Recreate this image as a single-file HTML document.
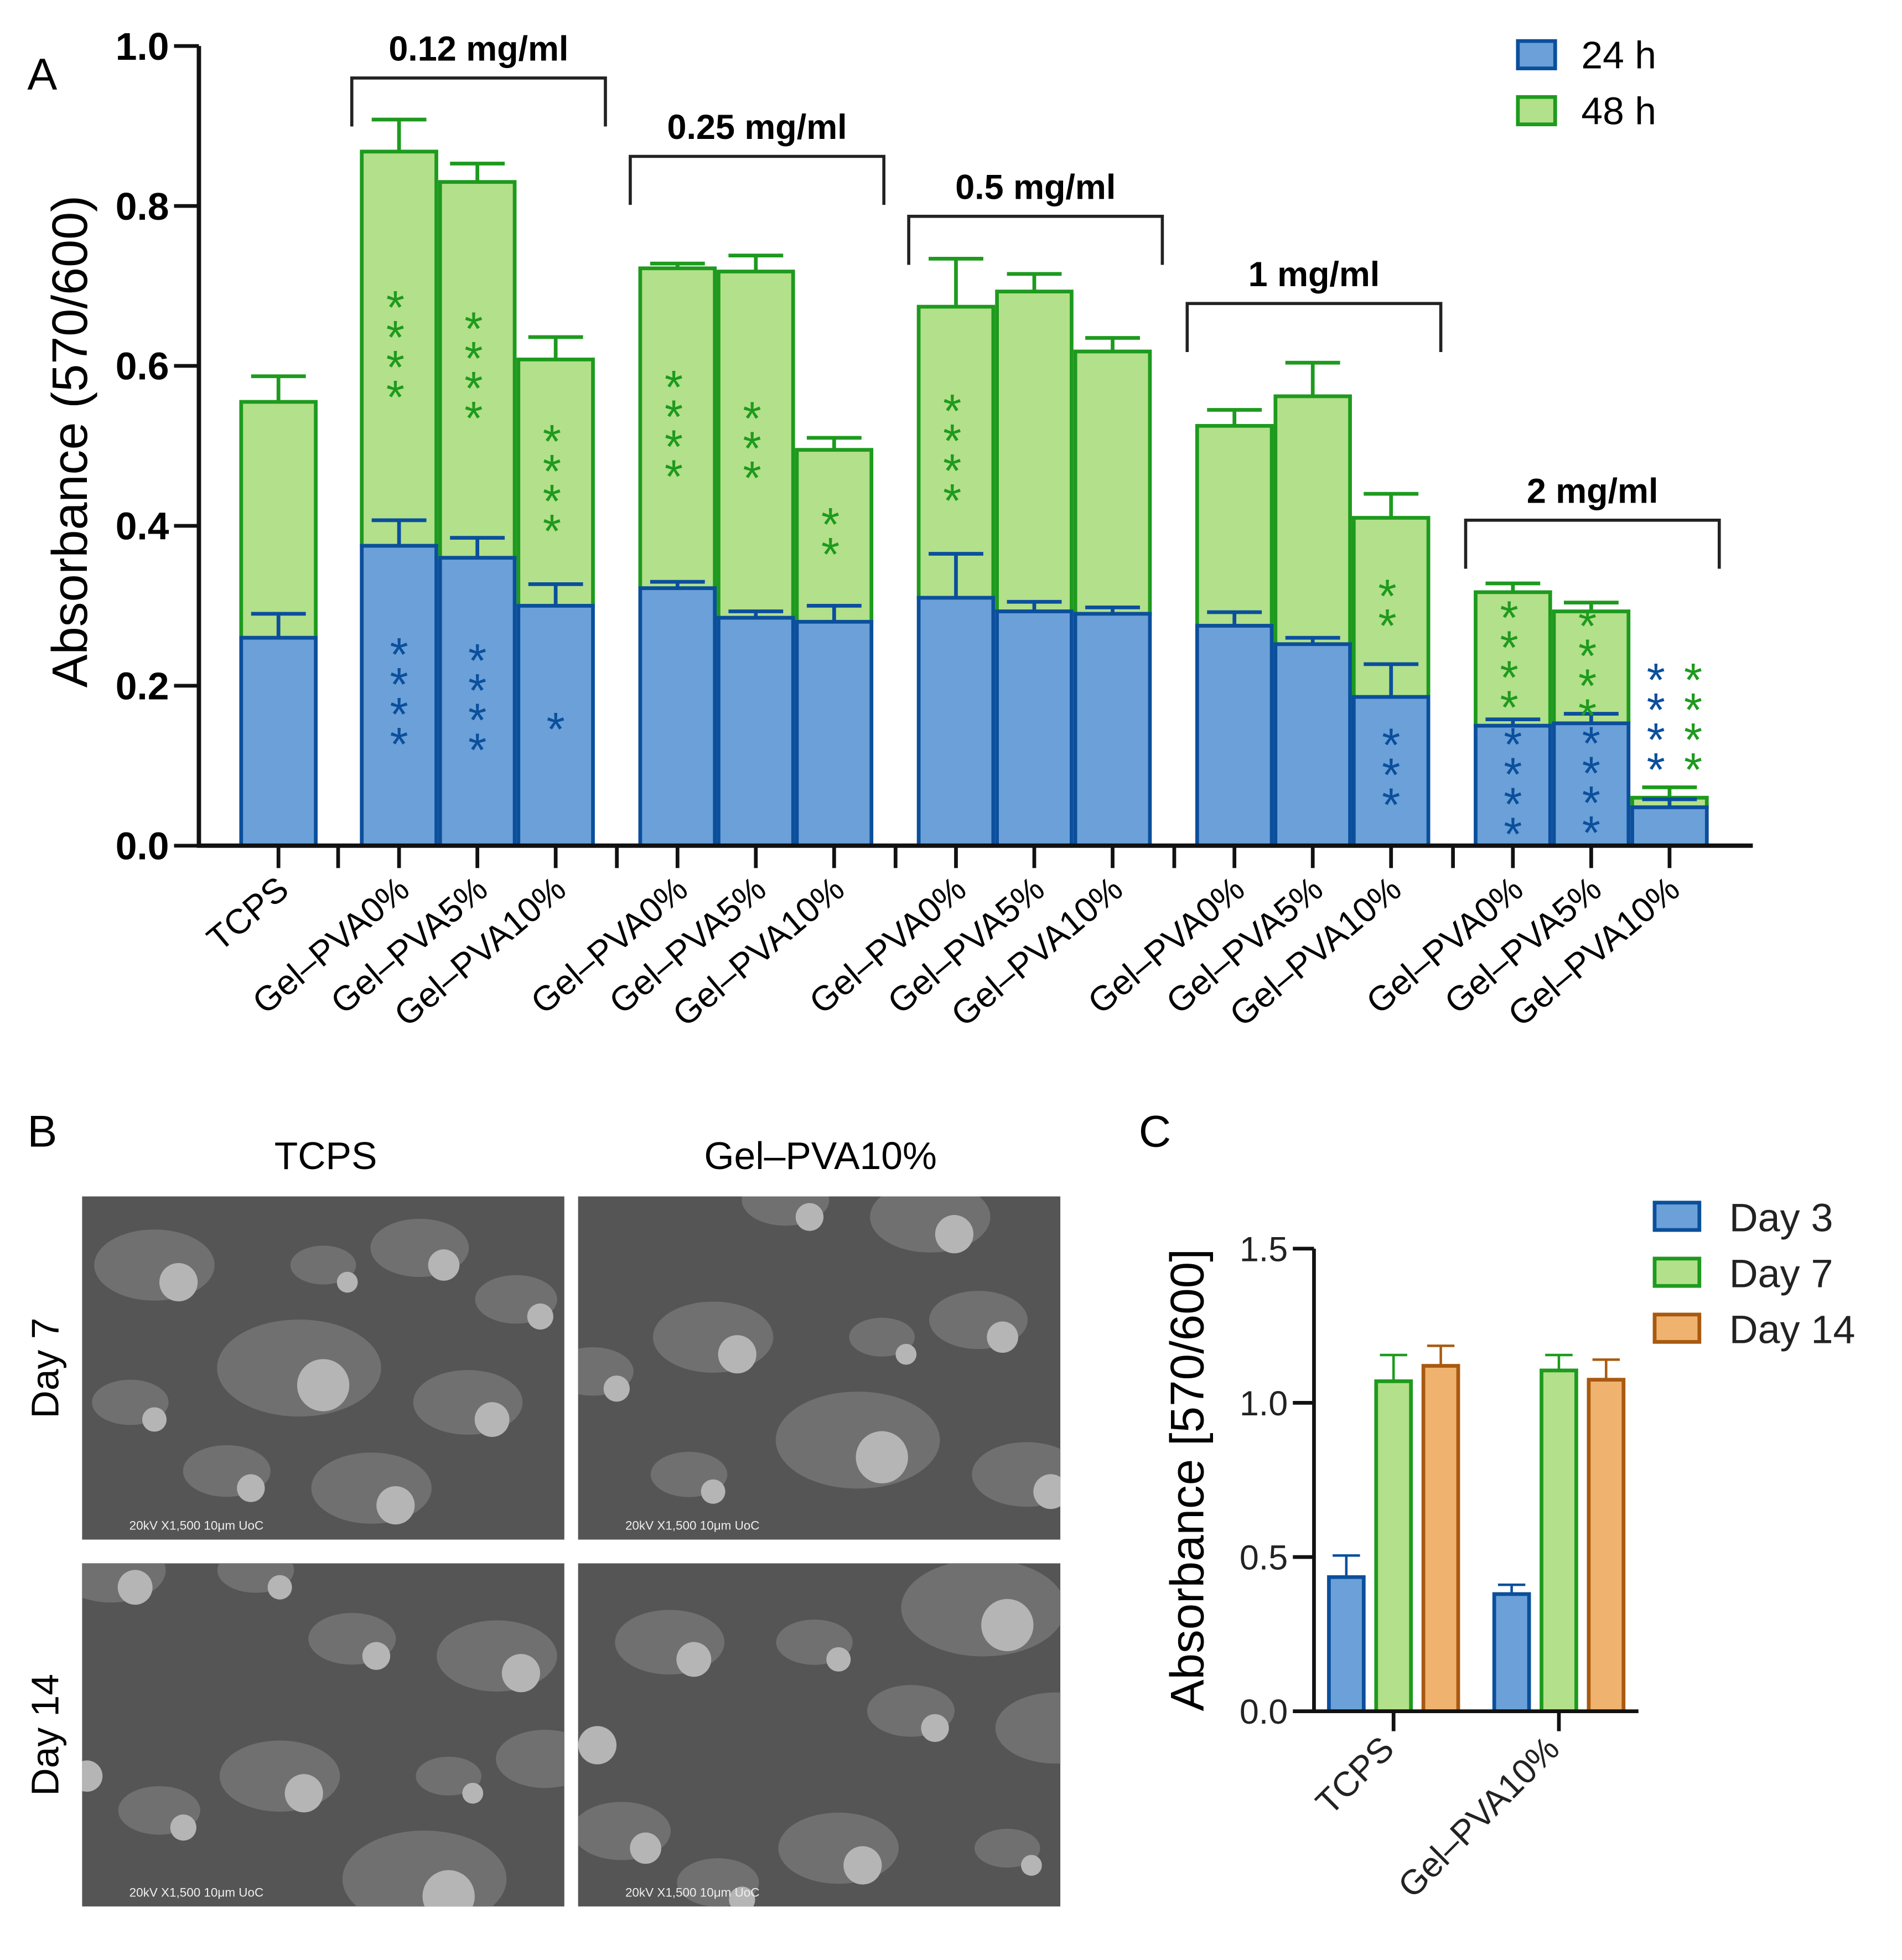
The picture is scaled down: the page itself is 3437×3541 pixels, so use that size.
<!DOCTYPE html>
<html><head><meta charset="utf-8"><style>
html,body{margin:0;padding:0;background:#fff;}
svg{display:block;font-family:"Liberation Sans",sans-serif;}
</style></head><body>
<svg id="fig" width="3437" height="3541" viewBox="0 0 1530 1576" preserveAspectRatio="none" xmlns="http://www.w3.org/2000/svg">
<defs>
<clipPath id="c0"><rect x="66" y="962" width="388" height="276"/></clipPath>
<clipPath id="c1"><rect x="465" y="962" width="388" height="276"/></clipPath>
<clipPath id="c2"><rect x="66" y="1257" width="388" height="276"/></clipPath>
<clipPath id="c3"><rect x="465" y="1257" width="388" height="276"/></clipPath>
</defs>
<rect width="1530" height="1576" fill="#fff"/>
<g id="pa"></g>
<g id="pb"></g>
<g id="pc"></g>
</svg>
<script>
// Panel A data
const catsA = ["TCPS","Gel–PVA0%","Gel–PVA5%","Gel–PVA10%","Gel–PVA0%","Gel–PVA5%","Gel–PVA10%","Gel–PVA0%","Gel–PVA5%","Gel–PVA10%","Gel–PVA0%","Gel–PVA5%","Gel–PVA10%","Gel–PVA0%","Gel–PVA5%","Gel–PVA10%"];
const val24 = [0.26,0.375,0.36,0.30,0.322,0.285,0.28,0.31,0.293,0.29,0.275,0.252,0.186,0.15,0.153,0.048];
const err24 = [0.03,0.032,0.025,0.027,0.008,0.008,0.02,0.055,0.012,0.008,0.017,0.008,0.041,0.008,0.012,0.01];
const val48 = [0.555,0.868,0.83,0.608,0.722,0.718,0.495,0.674,0.693,0.618,0.525,0.562,0.41,0.317,0.293,0.06];
const err48 = [0.032,0.04,0.023,0.028,0.006,0.02,0.015,0.06,0.022,0.017,0.02,0.042,0.03,0.011,0.011,0.013];
const sig24 = [0,4,4,1,0,0,0,0,0,0,0,0,3,4,4,4];
const sig48 = [0,4,4,4,4,3,2,4,0,0,0,0,2,4,4,4];
const groupsA = ["0.12 mg/ml","0.25 mg/ml","0.5 mg/ml","1 mg/ml","2 mg/ml"];
const groupBracketVal = [0.96,0.862,0.787,0.678,0.407];
const yTicksA = ["0.0","0.2","0.4","0.6","0.8","1.0"];
// Panel C data
const catsC = ["TCPS","Gel–PVA10%"];
const seriesC = ["Day 3","Day 7","Day 14"];
const day3 = [0.435,0.38];
const day7 = [1.07,1.105];
const day14 = [1.12,1.075];
const err3 = [0.07,0.03];
const err7 = [0.085,0.05];
const err14 = [0.065,0.065];
const yTicksC = ["0.0","0.5","1.0","1.5"];

const NS="http://www.w3.org/2000/svg";
function mk(parent,tag,attrs,text){const e=document.createElementNS(NS,tag);for(const k in attrs)e.setAttribute(k,attrs[k]);if(text!==undefined)e.textContent=text;parent.appendChild(e);return e;}

const BLUE_F="#6ba1d8",BLUE_S="#0b4f9c",GREEN_F="#b3e08a",GREEN_S="#1e9a1e",OR_F="#efb36f",OR_S="#a85a10";
// ---- Panel A ----
const pa=document.getElementById('pa');
const yA=v=>680-v*643;
function xA(i){ if(i===0) return 224; const g=Math.floor((i-1)/3), k=(i-1)%3; return 321+g*224+k*63; }
let e;
e=mk(pa,'text',{x:22,y:72,'font-size':36});e.textContent='A';

e=mk(pa,'text',{x:0,y:0,'font-size':40,'text-anchor':'middle',transform:'translate(70,355) rotate(-90)'},'Absorbance (570/600)');

yTicksA.forEach((t,i)=>{const v=parseFloat(t);
 e=mk(pa,'line',{x1:140,x2:160,y1:yA(v),y2:yA(v),stroke:'#111','stroke-width':3});
 
 e=mk(pa,'text',{x:136,y:yA(v)+11,'font-size':31,'font-weight':'bold','text-anchor':'end'},t);
 
});
catsA.forEach((c,i)=>{
 const x=xA(i),w=60;
 e=mk(pa,'rect',{x:x-w/2,y:yA(val48[i]),width:w,height:yA(val24[i])-yA(val48[i]),fill:GREEN_F,stroke:GREEN_S,'stroke-width':3});
 
 e=mk(pa,'path',{d:`M${x} ${yA(val48[i])}V${yA(val48[i]+err48[i])}M${x-22} ${yA(val48[i]+err48[i])}H${x+22}`,stroke:GREEN_S,'stroke-width':3,fill:'none'});
 
 e=mk(pa,'rect',{x:x-w/2,y:yA(val24[i]),width:w,height:yA(0)-yA(val24[i]),fill:BLUE_F,stroke:BLUE_S,'stroke-width':3});
 
 e=mk(pa,'path',{d:`M${x} ${yA(val24[i])}V${yA(val24[i]+err24[i])}M${x-22} ${yA(val24[i]+err24[i])}H${x+22}`,stroke:BLUE_S,'stroke-width':3,fill:'none'});
 
 e=mk(pa,'line',{x1:x,x2:x,y1:680,y2:698,stroke:'#111','stroke-width':3});
 
 e=mk(pa,'text',{x:0,y:0,'font-size':28,'text-anchor':'end',transform:`translate(${x+10},${718}) rotate(-40)`},c);
 
 const special=(i===15);
 const drawStars=(n,cx,cy,col,nm)=>{for(let s=0;s<n;s++){
   e=mk(pa,'text',{x:cx,y:cy-(n-1)*12+s*24+16,'font-size':38,'text-anchor':'middle',fill:col},'*');
   }};
 if(special){
   drawStars(sig24[i],x-11,580,BLUE_S,'significance-24h');
   drawStars(sig48[i],x+19,580,GREEN_S,'significance-48h');
 } else {
   drawStars(sig24[i],x,(yA(val24[i])+yA(0))/2,BLUE_S,'significance-24h');
   drawStars(sig48[i],x-3,(yA(val48[i])+yA(val24[i]))/2,GREEN_S,'significance-48h');
 }
});
for(let g=0;g<5;g++){
 const sx=272+g*224.2;
 e=mk(pa,'line',{x1:sx,x2:sx,y1:680,y2:698,stroke:'#111','stroke-width':3});
 
 const x0=xA(1+g*3)-38,x1=xA(3+g*3)+40,by=yA(groupBracketVal[g]);
 e=mk(pa,'path',{d:`M${x0} ${by+39}V${by}H${x1}V${by+39}`,stroke:'#222','stroke-width':2.5,fill:'none'});
 
 e=mk(pa,'text',{x:(x0+x1)/2,y:by-14,'font-size':28,'font-weight':'bold','text-anchor':'middle'},groupsA[g]);
 
}
e=mk(pa,'path',{d:'M160 37V680H1410',stroke:'#111','stroke-width':3.5,fill:'none'});

[["24 h",BLUE_F,BLUE_S,33],["48 h",GREEN_F,GREEN_S,78]].forEach(l=>{
 e=mk(pa,'rect',{x:1221,y:l[3],width:30,height:22,fill:l[1],stroke:l[2],'stroke-width':3});
 
 e=mk(pa,'text',{x:1272,y:l[3]+22,'font-size':31},l[0]);
 
});

// ---- Panel B ----
const pb=document.getElementById('pb');
e=mk(pb,'text',{x:22,y:922,'font-size':36},'B');

e=mk(pb,'text',{x:262,y:940,'font-size':31,'text-anchor':'middle'},'TCPS');

e=mk(pb,'text',{x:660,y:940,'font-size':31,'text-anchor':'middle'},'Gel–PVA10%');

e=mk(pb,'text',{x:0,y:0,'font-size':31,'text-anchor':'middle',transform:'translate(47,1100) rotate(-90)'},'Day 7');

e=mk(pb,'text',{x:0,y:0,'font-size':31,'text-anchor':'middle',transform:'translate(47,1395) rotate(-90)'},'Day 14');

const blobs=[[0.15,0.2,22],[0.7,0.15,18],[0.45,0.5,30],[0.8,0.6,20],[0.3,0.8,16],[0.6,0.85,22],[0.1,0.6,14],[0.9,0.3,15],[0.5,0.2,12]];
[[66,962],[465,962],[66,1257],[465,1257]].forEach((p,k)=>{
 const g=mk(pb,'g',{'clip-path':`url(#c${k})`});
 
 mk(g,'rect',{x:p[0],y:p[1],width:388,height:276,fill:'#555'});
 blobs.forEach((b,j)=>{
  mk(g,'ellipse',{cx:p[0]+388*((b[0]+k*0.13)%1),cy:p[1]+276*((b[1]+k*0.21)%1),rx:b[2]*2.2,ry:b[2]*1.3,fill:'#777',opacity:0.8});
  mk(g,'circle',{cx:p[0]+388*((b[0]+k*0.13+0.05)%1),cy:p[1]+276*((b[1]+k*0.21+0.05)%1),r:b[2]*0.7,fill:'#b5b5b5'});
 });
 mk(g,'text',{x:p[0]+38,y:p[1]+268,'font-size':10,fill:'#eee'},'20kV    X1,500    10μm                    UoC');
});

// ---- Panel C ----
const pc=document.getElementById('pc');
const yC=v=>1376-v*248;
const groupX=[1121,1254];
const offs=[-38,0,38];
e=mk(pc,'text',{x:916,y:922,'font-size':36},'C');

e=mk(pc,'text',{x:0,y:0,'font-size':38,'text-anchor':'middle',transform:'translate(968,1190) rotate(-90)'},'Absorbance [570/600]');

yTicksC.forEach(t=>{const v=parseFloat(t);
 e=mk(pc,'line',{x1:1040,x2:1057,y1:yC(v),y2:yC(v),stroke:'#111','stroke-width':3});
 
 e=mk(pc,'text',{x:1036,y:yC(v)+10,'font-size':28,'text-anchor':'end',fill:'#222'},t);
 
});
const cVals=[day3,day7,day14],cErr=[err3,err7,err14],cF=[BLUE_F,GREEN_F,OR_F],cS=[BLUE_S,GREEN_S,OR_S];
catsC.forEach((c,i)=>{
 cVals.forEach((arr,s)=>{
  const x=groupX[i]+offs[s];
  e=mk(pc,'rect',{x:x-14,y:yC(arr[i]),width:28,height:yC(0)-yC(arr[i]),fill:cF[s],stroke:cS[s],'stroke-width':3});
  
  const t=arr[i]+cErr[s][i];
  e=mk(pc,'path',{d:`M${x} ${yC(arr[i])}V${yC(t)}M${x-11} ${yC(t)}H${x+11}`,stroke:cS[s],'stroke-width':2,fill:'none'});
  
 });
 e=mk(pc,'line',{x1:groupX[i],x2:groupX[i],y1:1376,y2:1392,stroke:'#111','stroke-width':3});
 
 e=mk(pc,'text',{x:0,y:0,'font-size':28,'text-anchor':'end',fill:'#222',transform:`translate(${groupX[i]+2},${1408}) rotate(-45)`},c);
 
});
e=mk(pc,'path',{d:'M1057 1004V1376H1318',stroke:'#111','stroke-width':3,fill:'none'});

seriesC.forEach((s,k)=>{
 const ly=967+k*45;
 e=mk(pc,'rect',{x:1331,y:ly,width:36,height:22,fill:cF[k],stroke:cS[k],'stroke-width':3});
 
 e=mk(pc,'text',{x:1391,y:ly+23,'font-size':32,fill:'#222'},s);
 
});
</script>
</body></html>
